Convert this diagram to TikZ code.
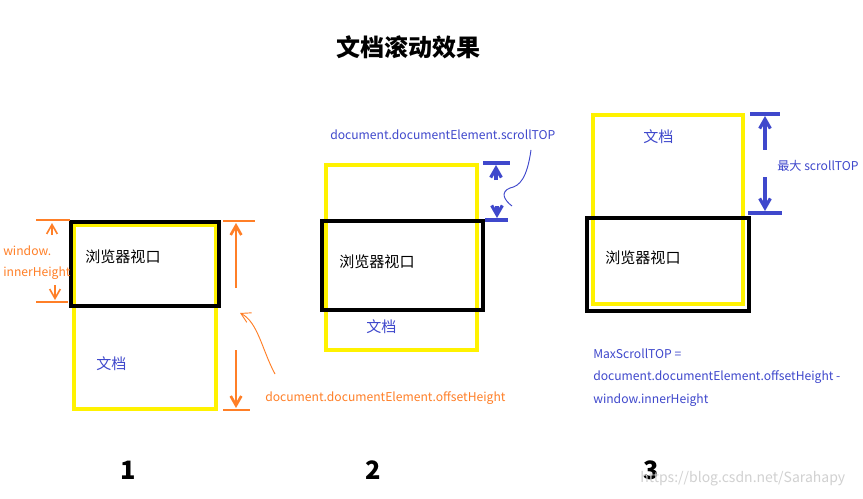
\documentclass[tikz,border=0pt]{standalone}
\usepackage{fontspec}
\setmainfont{Noto Sans CJK SC}
\usetikzlibrary{arrows.meta}
\definecolor{penorange}{HTML}{FF7F27}
\definecolor{penblue}{HTML}{3F48CC}
\definecolor{penyellow}{HTML}{FFF200}
\tikzset{
    viewport/.style={draw=black,line width=2.8pt},
    docbox/.style={draw=penyellow,line width=2.8pt},
    orangedim/.style={draw=penorange,line width=2pt},
    bluedim/.style={draw=penblue,line width=2.4pt},
    lbl/.style={anchor=west,inner sep=0pt,font=\fontsize{9.1}{11}\selectfont},
    cjk/.style={anchor=west,inner sep=0pt,font=\fontsize{11.3}{13}\selectfont},
    stepno/.style={inner sep=0pt,font=\fontsize{19}{22}\bfseries},
  }

\begin{document}
\begin{tikzpicture}[x=0.75pt,y=-0.75pt,>={Straight Barb[length=7pt,width=8pt]}]
    \useasboundingbox[fill=white] (0,0) rectangle (863,499);
    % title
    \node[inner sep=0pt,font=\fontsize{18}{21}\bfseries] (title) at (408,47) {文档滚动效果};

    % 1: viewport at top of document
    \draw[docbox] (74,225) rectangle (216,409);
    \draw[viewport] (71,222) rectangle (219,306);
    \node[cjk] (v1) at (85,257) {浏览器视口};
    \node[cjk,text=penblue] (d1) at (96,364) {文档};
    \coordinate (w1) at (36,220); \coordinate (w2) at (70,220);
    \coordinate (w3) at (36,302); \coordinate (w4) at (68,302);
    \draw[orangedim] (w1) -- (w2);
    \draw[orangedim] (w3) -- (w4);
    \coordinate (wa) at (52,235); \coordinate (wb) at (52,223);
    \coordinate (wc) at (55,285); \coordinate (wd) at (55,300);
    \draw[orangedim,line width=1.2pt,->] (wa) -- (wb);
    \draw[orangedim,line width=1.2pt,->] (wc) -- (wd);
    \node[lbl,text=penorange] (win1) at (3,251) {window.};
    \node[lbl,text=penorange] (win2) at (3,273) {innerHeight};
    \coordinate (h1) at (223,221); \coordinate (h2) at (255,221);
    \coordinate (h3) at (223,410); \coordinate (h4) at (250,410);
    \draw[orangedim] (h1) -- (h2);
    \draw[orangedim] (h3) -- (h4);
    \coordinate (ha) at (236,288); \coordinate (hb) at (236,223);
    \coordinate (hc) at (236,350); \coordinate (hd) at (236,408);
    \draw[orangedim,->] (ha) -- (hb);
    \draw[orangedim,->] (hc) -- (hd);
    \coordinate (p1) at (275,374); \coordinate (p2) at (240,313);
    \draw[penorange,line width=0.7pt,->] (p1) .. controls (262,350) and (258,322) .. (p2);
    \node[lbl,text=penorange] (off) at (265,398) {document.documentElement.offsetHeight};

    % 2: document scrolled a little
    \draw[docbox] (326,165) rectangle (477,350);
    \draw[viewport] (322,221) rectangle (483,310);
    \node[cjk] (v2) at (339,262) {浏览器视口};
    \node[cjk,text=penblue] (d2) at (366,327) {文档};
    \coordinate (s1) at (483,163); \coordinate (s2) at (510,163);
    \coordinate (s3) at (485,220); \coordinate (s4) at (508,220);
    \draw[bluedim] (s1) -- (s2);
    \draw[bluedim] (s3) -- (s4);
    \coordinate (sa) at (496,180); \coordinate (sb) at (496,165);
    \coordinate (sc) at (497,206); \coordinate (sd) at (497,218);
    \draw[bluedim,->] (sa) -- (sb);
    \draw[bluedim,->] (sc) -- (sd);
    \node[lbl,text=penblue] (st) at (330,135) {document.documentElement.scrollTOP};
    \coordinate (q1) at (531,150); \coordinate (q2) at (512,206);
    \draw[penblue,line width=0.7pt] (q1) .. controls (527,178) and (520,186) .. (510,188)
        .. controls (500,192) and (504,200) .. (q2);

    % 3: document scrolled to the end
    \draw[docbox] (593,115) rectangle (743,304);
    \draw[viewport] (587,218) rectangle (749,311);
    \node[cjk,text=penblue] (d3) at (643,137) {文档};
    \node[cjk] (v3) at (605,258) {浏览器视口};
    \coordinate (m1) at (750,114); \coordinate (m2) at (780,114);
    \coordinate (m3) at (748,213); \coordinate (m4) at (782,213);
    \draw[bluedim] (m1) -- (m2);
    \draw[bluedim] (m3) -- (m4);
    \coordinate (ma) at (765,150); \coordinate (mb) at (765,116);
    \coordinate (mc) at (765,177); \coordinate (md) at (765,211);
    \draw[bluedim,->] (ma) -- (mb);
    \draw[bluedim,->] (mc) -- (md);
    \node[lbl,text=penblue] (mx) at (777,166) {最大 scrollTOP};
    \node[lbl,text=penblue] (f1) at (593,354) {MaxScrollTOP =};
    \node[lbl,text=penblue] (f2) at (593,377) {document.documentElement.offsetHeight -};
    \node[lbl,text=penblue] (f3) at (593,400) {window.innerHeight};

    % step numbers
    \node[stepno] (n1) at (128,470) {1};
    \node[stepno] (n2) at (373,470) {2};
    \node[stepno] (n3) at (651,470) {3};
    \node[anchor=west,inner sep=0pt,text=black!18,font=\fontsize{10.5}{12}\selectfont] (wm) at (640,479) {https://blog.csdn.net/Sarahapy};
\end{tikzpicture}
\end{document}
